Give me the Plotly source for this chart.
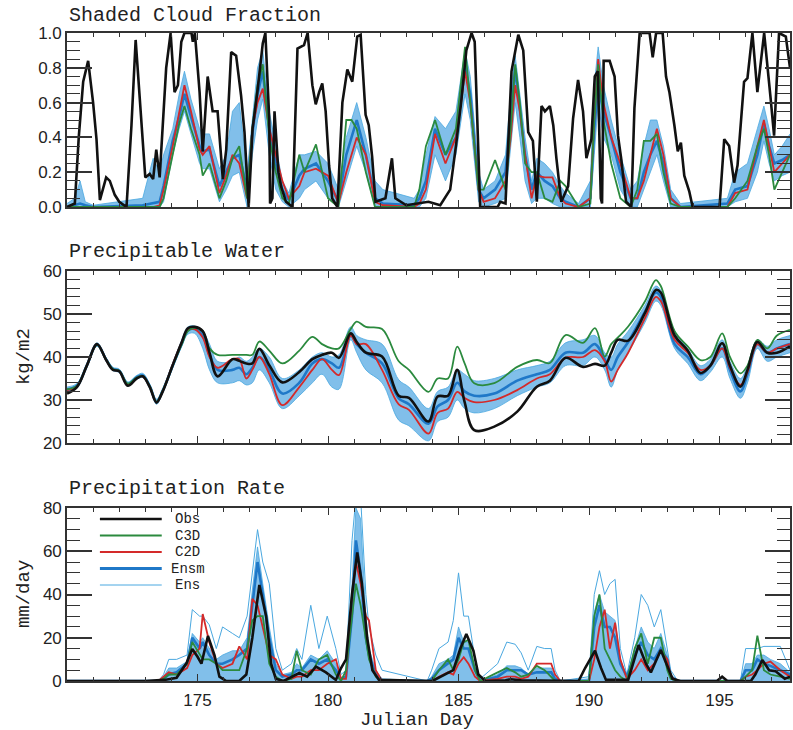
import plotly.graph_objects as go

# ================= DATA =================
series_names = ["Obs", "C3D", "C2D", "Ensm", "Ens"]
x_tickvals = [175, 180, 185, 190, 195]
cf_tickvals = [0.0, 0.2, 0.4, 0.6, 0.8, 1.0]
cf_ticktext = ["0.0", "0.2", "0.4", "0.6", "0.8", "1.0"]
pw_tickvals = [20, 30, 40, 50, 60]
pr_tickvals = [0, 20, 40, 60, 80]

# ---- Shaded cloud fraction: observations ----
obs_cf_day = [170.0, 170.3, 170.45, 170.62, 170.81, 171.0, 171.13, 171.26, 171.5, 171.64,
              171.83, 172.0, 172.28, 172.47, 172.63, 172.85, 173.0, 173.17, 173.3, 173.42,
              173.55, 173.8, 173.97, 174.12, 174.25, 174.38, 174.5, 174.77, 174.82, 174.9,
              175.08, 175.2, 175.39, 175.58, 175.77, 175.97, 176.1, 176.29, 176.48, 176.67,
              176.8, 176.96, 177.11, 177.3, 177.5, 177.6, 177.75, 177.78, 177.87, 177.95,
              178.1, 178.2, 178.39, 178.64, 178.83, 179.08, 179.22, 179.4, 179.53, 179.66,
              179.78, 179.91, 180.04, 180.16, 180.36, 180.55, 180.74, 180.93, 181.12, 181.25,
              181.44, 181.56, 181.69, 181.82, 182.2, 182.45, 182.58, 183.0, 183.85, 184.3,
              184.68, 184.9, 185.1, 185.3, 185.5, 185.62, 185.83, 186.5, 186.6, 186.8,
              187.03, 187.29, 187.48, 187.67, 187.85, 188.0, 188.18, 188.31, 188.5, 188.63,
              188.75, 188.94, 189.2, 189.39, 189.58, 189.77, 189.9, 190.09, 190.22, 190.34,
              190.45, 190.5, 190.56, 190.79, 190.98, 191.11, 191.23, 191.42, 191.62, 191.74,
              191.94, 192.32, 192.44, 192.57, 192.82, 192.95, 193.08, 193.27, 193.4, 193.52,
              193.65, 193.84, 193.97, 195.0, 195.18, 195.37, 195.56, 195.69, 195.94, 196.07,
              196.26, 196.45, 196.71, 196.96, 197.09, 197.28, 197.54, 197.7]
obs_cf = [0.0, 0.02, 0.4, 0.72, 0.84, 0.6, 0.39, 0.04, 0.17, 0.15,
          0.07, 0.03, 0.0, 0.47, 0.96, 0.47, 0.17, 0.19, 0.16, 0.33,
          0.17, 0.8, 1.0, 0.66, 0.7, 0.95, 1.0, 1.0, 0.95, 1.0,
          0.66, 0.32, 0.75, 0.55, 0.55, 0.16, 0.33, 0.89, 0.87, 0.64,
          0.43, 0.0, 0.45, 0.67, 0.94, 1.0, 0.5, 0.02, 0.05, 0.55,
          0.2, 0.12, 0.03, 0.0, 0.91, 0.93, 1.0, 0.7, 0.59, 0.66,
          0.71, 0.55, 0.24, 0.05, 0.0, 0.6, 0.79, 0.72, 0.98, 0.99,
          0.53, 0.47, 0.29, 0.03, 0.05, 0.28, 0.05, 0.01, 0.03, 0.01,
          0.1, 0.35, 0.6, 0.9, 1.0, 0.95, 0.0, 0.0, 0.03, 0.02,
          0.78, 0.99, 0.9, 0.43, 0.38, 0.03, 0.58, 0.55, 0.58, 0.47,
          0.28, 0.03, 0.12, 0.51, 0.73, 0.55, 0.28, 0.39, 0.75, 0.78,
          0.05, 0.02, 0.84, 0.84, 0.75, 0.41, 0.28, 0.03, 0.0, 0.57,
          1.0, 1.0, 0.86, 1.0, 1.0, 0.75, 0.66, 0.47, 0.32, 0.37,
          0.18, 0.09, 0.0, 0.0, 0.39, 0.35, 0.14, 0.24, 0.72, 0.74,
          1.0, 0.66, 1.0, 0.62, 0.41, 1.0, 0.98, 0.8]

# ---- Shaded cloud fraction: models ----
cf_day = [170.0, 170.3, 170.5, 170.7, 171.0, 172.9, 173.3, 173.55, 173.7, 174.05,
          174.3, 174.5, 174.75, 175.08, 175.2, 175.46, 175.84, 176.1, 176.34, 176.6,
          176.9, 177.1, 177.3, 177.5, 177.75, 178.0, 178.25, 178.5, 178.9, 179.1,
          179.54, 180.0, 180.4, 180.7, 180.9, 181.1, 181.45, 181.8, 182.1, 183.3,
          183.5, 183.75, 184.1, 184.5, 184.9, 185.1, 185.25, 185.45, 185.77, 185.96,
          186.4, 186.8, 187.0, 187.17, 187.35, 187.55, 187.8, 188.0, 188.3, 188.6,
          188.9, 189.1, 189.6, 190.05, 190.2, 190.35, 190.55, 190.85, 191.2, 191.6,
          191.85, 192.1, 192.35, 192.6, 192.85, 193.13, 193.5, 195.3, 195.6, 196.07,
          196.45, 196.7, 196.9, 197.1, 197.4, 197.7]
c3d_cf = [0, 0, 0, 0, 0, 0, 0, 0, 0.05, 0.3,
          0.48, 0.58, 0.45, 0.3, 0.18, 0.25, 0.05, 0.15, 0.28, 0.35,
          0.05, 0.45, 0.7, 0.82, 0.4, 0.2, 0.05, 0.02, 0.3, 0.2,
          0.36, 0.05, 0.0, 0.5, 0.5, 0.45, 0.2, 0.0, 0.0, 0.0,
          0.1, 0.35, 0.5, 0.3, 0.45, 0.7, 0.92, 0.6, 0.1, 0.1,
          0.27, 0.1, 0.45, 0.82, 0.6, 0.25, 0.2, 0.2, 0.05, 0.03,
          0.15, 0.12, 0.0, 0.02, 0.5, 0.82, 0.5, 0.25, 0.05, 0.0,
          0.1, 0.38, 0.38, 0.42, 0.2, 0.02, 0.0, 0.0, 0.05, 0.15,
          0.35, 0.45, 0.3, 0.1, 0.2, 0.3]
c2d_cf = [0, 0, 0, 0, 0, 0, 0, 0.01, 0.1, 0.35,
          0.55, 0.7, 0.55, 0.33, 0.3, 0.35, 0.08, 0.18, 0.3, 0.25,
          0.05, 0.45, 0.6, 0.68, 0.45, 0.3, 0.15, 0.05, 0.12, 0.2,
          0.22, 0.18, 0.02, 0.2, 0.3, 0.4, 0.3, 0.03, 0.01, 0.0,
          0.02, 0.1, 0.42, 0.25, 0.4, 0.6, 0.78, 0.6, 0.1, 0.03,
          0.05, 0.15, 0.4, 0.7, 0.55, 0.3, 0.05, 0.18, 0.17, 0.17,
          0.05, 0.02, 0.0, 0.05, 0.5, 0.85, 0.6, 0.4, 0.25, 0.05,
          0.05, 0.15, 0.3, 0.45, 0.3, 0.05, 0.0, 0.0, 0.08, 0.1,
          0.35, 0.5, 0.35, 0.2, 0.25, 0.3]
ensm_cf = [0, 0.01, 0.02, 0.01, 0, 0.01, 0.02, 0.03, 0.12, 0.38,
           0.52, 0.65, 0.52, 0.35, 0.32, 0.33, 0.12, 0.2, 0.28, 0.3,
           0.1, 0.42, 0.65, 0.78, 0.45, 0.25, 0.1, 0.04, 0.18, 0.22,
           0.25, 0.15, 0.03, 0.3, 0.4, 0.5, 0.3, 0.05, 0.02, 0.01,
           0.05, 0.15, 0.45, 0.3, 0.4, 0.62, 0.8, 0.65, 0.1, 0.05,
           0.1, 0.2, 0.5, 0.8, 0.55, 0.3, 0.1, 0.2, 0.15, 0.12,
           0.05, 0.03, 0.0, 0.05, 0.45, 0.7, 0.55, 0.4, 0.2, 0.05,
           0.05, 0.2, 0.3, 0.38, 0.25, 0.05, 0.0, 0.02, 0.1, 0.12,
           0.3, 0.48, 0.35, 0.25, 0.27, 0.3]
ens_hi_cf = [0.02, 0.05, 0.15, 0.03, 0.01, 0.05, 0.28, 0.2, 0.3, 0.45,
             0.65, 0.78, 0.62, 0.45, 0.42, 0.42, 0.22, 0.3, 0.55, 0.6,
             0.2, 0.5, 0.8, 0.9, 0.55, 0.35, 0.15, 0.08, 0.3, 0.3,
             0.32, 0.25, 0.1, 0.4, 0.5, 0.6, 0.4, 0.15, 0.1, 0.05,
             0.1, 0.3, 0.52, 0.45, 0.55, 0.75, 0.9, 0.75, 0.2, 0.1,
             0.15, 0.3, 0.65, 0.87, 0.65, 0.4, 0.15, 0.28, 0.25, 0.2,
             0.12, 0.08, 0.02, 0.15, 0.7, 0.92, 0.7, 0.5, 0.3, 0.1,
             0.15, 0.35, 0.5, 0.5, 0.35, 0.1, 0.02, 0.05, 0.2, 0.25,
             0.45, 0.58, 0.45, 0.3, 0.35, 0.42]
ens_lo_cf = [0, 0, 0, 0, 0, 0, 0, 0, 0.03, 0.3,
             0.45, 0.55, 0.42, 0.25, 0.22, 0.22, 0.03, 0.1, 0.18, 0.2,
             0.0, 0.3, 0.5, 0.62, 0.3, 0.1, 0.03, 0.0, 0.05, 0.1,
             0.15, 0.05, 0.0, 0.15, 0.25, 0.35, 0.2, 0.0, 0.0, 0.0,
             0.0, 0.05, 0.3, 0.15, 0.3, 0.5, 0.65, 0.5, 0.03, 0.0,
             0.02, 0.05, 0.35, 0.6, 0.4, 0.15, 0.02, 0.05, 0.05, 0.02,
             0.0, 0.0, 0.0, 0.0, 0.3, 0.6, 0.4, 0.3, 0.1, 0.0,
             0.0, 0.1, 0.2, 0.3, 0.15, 0.0, 0.0, 0.0, 0.03, 0.05,
             0.2, 0.38, 0.25, 0.15, 0.18, 0.2]

# ---- Precipitable water (kg/m2) ----
pw_day = [170.0, 170.38, 170.76, 171.15, 171.5, 171.76, 172.0, 172.33, 172.67, 172.9,
          173.17, 173.43, 173.67, 174.05, 174.4, 174.63, 174.89, 175.2, 175.46, 175.77,
          176.34, 176.6, 176.87, 177.1, 177.37, 177.75, 178.25, 178.9, 179.4, 179.77,
          180.15, 180.42, 180.87, 181.1, 181.45, 182.07, 182.71, 183.1, 183.85, 184.2,
          184.6, 184.95, 185.23, 185.6, 186.37, 187.25, 188.0, 188.5, 189.1, 189.77,
          190.23, 190.6, 190.85, 191.1, 191.5, 192.14, 192.56, 192.75, 193.28, 193.78,
          194.27, 194.65, 195.1, 195.4, 195.8, 196.07, 196.45, 196.83, 197.2, 197.7]
obs_pw = [31.5, 33, 38, 43, 39.3, 37, 36.7, 33.3, 35, 35.5,
          33, 29.4, 32, 38.1, 43.5, 46.7, 47, 46, 41, 35.5,
          39.5, 39.1, 38.5, 38.5, 41.9, 38.1, 34.1, 36.5, 39.5, 40.5,
          41, 39.8, 45.5, 43.5, 41, 40.1, 31, 30.5, 25, 30.8,
          31, 37, 29.6, 23, 23.8, 27.3, 33.1, 34.5, 39.8, 37.7,
          38.4, 38, 41, 44, 43.8, 50.2, 55.6, 55, 45, 41.5,
          36.3, 38, 43.2, 38, 33.1, 37, 43.5, 41, 41, 42.5]
c3d_pw = [32.5, 33.3, 38, 42.8, 39.4, 37.2, 36.8, 33.8, 35.2, 35.6,
          33.2, 29.6, 32.2, 38, 43, 46, 46.8, 46, 42, 40.5,
          40.5, 40.5, 40.5, 40.5, 43.6, 41.5, 38.5, 41.5, 44.7, 43,
          42, 42, 46.5, 48.2, 47, 46.5, 39, 37, 31.9, 35,
          35, 42.4, 38.6, 33.9, 33.9, 37.7, 39.3, 38.6, 45.1, 43.3,
          46.7, 40.1, 43, 44.5, 47.1, 52.9, 57.9, 56.5, 46, 42.5,
          39.3, 40, 45.5, 40, 36.2, 38, 44, 42, 45, 46.3]
c2d_pw = [32.3, 33.2, 38, 42.9, 39.3, 37.1, 36.7, 33.6, 35.1, 35.5,
          33.1, 29.5, 32.1, 38.3, 43.5, 46.3, 46.5, 44.5, 40, 37.5,
          39.5, 39.5, 35, 37, 40, 36, 28.8, 33, 37, 39.5,
          37, 35.8, 45, 43, 43, 37, 29, 27.7, 22.2, 27,
          28, 31.9, 30.5, 29.5, 30, 32.3, 35, 36, 39.8, 40,
          41.6, 39, 34.3, 37, 41, 49, 54, 53, 44, 41,
          37, 38, 42, 37.5, 33.5, 36.5, 43, 41, 42, 43]
ensm_pw = [32.4, 33.3, 38, 42.9, 39.4, 37.2, 36.8, 33.7, 35.3, 35.7,
           33.2, 29.6, 32.2, 38, 43.2, 46.2, 46.5, 45, 40.5, 37,
           37, 37.5, 36, 37.5, 40, 37, 31.5, 34, 38.5, 39.5,
           38.5, 37.5, 45, 43, 41, 38.5, 30.4, 29, 24.5, 28.5,
           30, 34, 32, 31, 31.5, 34.5, 36, 37, 41, 41,
           43, 39.5, 37, 40, 43.5, 50.5, 55, 54, 43, 40,
           36, 38, 42, 37, 32, 36, 43, 41, 42, 43]
ens_hi_pw = [33, 33.8, 38.5, 43.3, 39.8, 37.6, 37.2, 34.2, 35.7, 36.2,
             33.7, 30.2, 32.7, 38.6, 44, 47, 47.2, 46, 43, 39,
             39, 40, 39, 40, 42, 40, 35, 37, 40, 41,
             40, 40.5, 47, 45, 44, 43, 34.7, 33, 28, 32,
             33, 37, 36, 34.5, 35, 37, 38, 39, 43.3, 44,
             45, 41, 40, 43, 46, 52, 56.5, 55.5, 46, 42,
             38, 39.5, 44, 39, 35, 38, 44, 42.5, 44, 45]
ens_lo_pw = [32, 32.8, 37.6, 42.5, 39, 36.8, 36.4, 33.3, 34.8, 35.2,
             32.7, 29, 31.7, 37.4, 42.5, 45.3, 45.5, 42, 37, 34,
             34, 34.5, 33.5, 34, 37, 34, 28, 31, 34, 36,
             33, 32.5, 44, 41, 37, 34, 25.3, 24, 20.5, 25,
             26, 30, 28, 27, 28, 31, 33, 34, 38, 38,
             40, 37, 33, 37, 41, 48, 53, 52, 42, 38.5,
             34.5, 36.5, 40, 35, 30.4, 34, 42, 39, 40, 41]

# ---- Precipitation rate (mm/day) ----
pr_obs_day = [170.0, 173.0, 173.74, 174.2, 174.58, 174.8, 175.0, 175.15, 175.4, 175.65,
              175.84, 176.1, 176.6, 176.87, 177.1, 177.37, 177.63, 177.82, 178.0, 178.3,
              178.9, 179.2, 179.54, 179.92, 180.3, 180.5, 180.69, 180.92, 181.12, 181.3,
              181.5, 181.7, 181.95, 184.0, 184.8, 185.07, 185.3, 185.57, 185.76, 186.03,
              186.8, 187.0, 187.4, 189.6, 189.85, 190.23, 190.46, 190.65, 191.5, 191.68,
              191.9, 192.18, 192.37, 192.75, 193.0, 193.2, 193.5, 194.9, 195.1, 195.3,
              196.2, 196.37, 196.64, 196.9, 197.15, 197.5, 197.7]
obs_pr = [0, 0, 0.5, 1.5, 8.3, 14.8, 11.2, 8, 20.8, 12,
          2, 0, 0, 3, 20, 44.4, 30, 8, 1, 0,
          3.7, 2, 6.6, 4, 0.5, 6, 10, 40, 59.5, 45,
          20, 5, 0.5, 0, 5, 15, 21.7, 14, 3, 0,
          0.3, 0.8, 0.3, 0, 6, 14, 6, 0.5, 0.5, 8,
          16.6, 8, 4, 14.3, 7, 1, 0, 0, 2, 0,
          0, 3, 9.7, 5, 4.5, 1, 2]
pr_day = [170.0, 173.5, 173.7, 173.9, 174.2, 174.6, 174.8, 175.08, 175.2, 175.45,
          175.72, 175.96, 176.34, 176.6, 176.9, 177.1, 177.3, 177.5, 177.75, 178.0,
          178.25, 178.6, 178.8, 179.0, 179.34, 179.65, 179.97, 180.3, 180.5, 180.69,
          180.92, 181.07, 181.25, 181.45, 181.57, 181.83, 182.07, 183.8, 183.97, 184.25,
          184.6, 184.8, 185.0, 185.2, 185.38, 185.63, 185.83, 186.5, 186.85, 187.17,
          187.4, 187.67, 188.0, 188.3, 188.55, 188.7, 188.9, 190.0, 190.2, 190.4,
          190.6, 190.8, 191.0, 191.2, 191.45, 191.75, 192.0, 192.25, 192.5, 192.75,
          193.0, 193.13, 193.4, 195.8, 196.0, 196.25, 196.45, 196.7, 196.95, 197.33,
          197.7]
c3d_pr = [0, 0, 1, 3, 3, 8, 18, 12, 10, 10,
          8, 5, 5, 5, 15, 28, 30, 30, 8, 2,
          0, 1, 14, 5, 3, 10, 12, 3, 0, 5,
          30, 45, 35, 20, 10, 2, 0, 0, 0, 5,
          10, 5, 10, 18, 19, 5, 0, 4, 6, 4,
          2, 3, 7, 5, 2, 0, 0, 0, 30, 40,
          15, 10, 5, 2, 0, 15, 22, 8, 20, 20,
          5, 1, 0, 0, 2, 5, 21, 5, 3, 2,
          1]
c2d_pr = [0, 0, 2, 4, 3, 6, 12, 15, 31, 18,
          8, 6, 8, 16, 10, 38, 35, 25, 12, 10,
          3, 1, 2, 2, 5, 5, 8, 10, 1, 1,
          40, 55, 45, 30, 28, 5, 0, 0, 0, 2,
          4, 3, 8, 11, 8, 2, 0, 1, 2, 2,
          1, 2, 8, 8, 8, 3, 0, 0, 10, 25,
          33, 15, 27, 10, 1, 5, 10, 5, 8, 14,
          10, 2, 0, 0, 2, 3, 5, 8, 9, 5,
          2]
ensm_pr = [0, 0, 1, 3, 4, 8, 20, 15, 18, 12,
           8, 8, 10, 12, 15, 35, 55, 40, 20, 5,
           2, 3, 5, 5, 10, 8, 10, 5, 1, 2,
           30, 65, 50, 20, 12, 3, 0, 0, 1, 5,
           8, 10, 20, 15, 15, 5, 0, 2, 5, 5,
           5, 3, 4, 4, 4, 1, 0, 0, 25, 35,
           25, 25, 20, 8, 2, 12, 18, 12, 10, 15,
           10, 2, 0, 0, 5, 5, 10, 8, 7, 5,
           3]
ens_mid_pr = [0, 0, 2, 6, 6, 9, 22, 18, 20, 15,
              10, 12, 14, 14, 20, 42, 62, 45, 25, 8,
              3, 4, 8, 6, 12, 10, 14, 8, 1, 3,
              45, 80, 75, 30, 15, 5, 1, 0, 2, 8,
              10, 12, 25, 18, 18, 6, 0, 3, 7, 7,
              6, 3, 6, 6, 6, 2, 0, 1, 32, 40,
              32, 30, 28, 10, 2, 15, 25, 18, 15, 22,
              12, 3, 0, 0, 8, 8, 12, 12, 10, 8,
              4]
ens_hi_pr = [0, 0, 3, 10, 10, 12, 33, 30, 30, 26,
             15, 25, 22, 20, 30, 50, 70, 55, 45, 15,
             5, 8, 15, 10, 35, 15, 30, 15, 3, 5,
             65, 85, 85, 40, 25, 12, 5, 0, 5, 15,
             18, 28, 50, 30, 30, 10, 1, 8, 18, 17,
             13, 5, 16, 15, 15, 5, 0, 2, 40, 51,
             40, 45, 47, 15, 3, 20, 40, 35, 25, 33,
             15, 5, 0, 0, 15, 15, 15, 16, 16, 16,
             5]

# ================= STYLE =================
BLACK = "#111111"
GREEN = "#2b8a3e"
RED = "#d42a2a"
BLUE = "#1f78c8"
LBLUE = "#4aa8e0"
FILL = "rgba(38,145,218,0.58)"
AXC = "#333333"
TICKFONT = dict(family="Liberation Sans", size=17, color="#222222")
TEXTFONT = dict(family="Liberation Mono", size=20, color="#222222")
series_colors = [BLACK, GREEN, RED, BLUE, LBLUE]
series_widths = [2.6, 1.8, 1.8, 2.8, 1.0]

W, H = 793, 730
ML, MR, MT, MB = 67, 1, 33, 49
PW_ = W - ML - MR
PH = H - MT - MB
XRANGE = [170, 197.7]


def px_x(p):
    return (p - ML) / PW_


def px_y(p):
    return (H - MB - p) / PH


def ydom(top_px, bot_px):
    return [px_y(bot_px), px_y(top_px)]


fig = go.Figure()


def add_panel(n, obs_x, obs_y, mx, c3d, c2d, ensm, hi, lo, mid, shape):
    xa = "x" if n == 1 else "x%d" % n
    ya = "y" if n == 1 else "y%d" % n
    common = dict(xaxis=xa, yaxis=ya, mode="lines", hoverinfo="skip", showlegend=False)
    if lo is not None:
        fig.add_trace(go.Scatter(x=mx, y=lo, line=dict(color=LBLUE, width=0.8, shape=shape), **common))
        fig.add_trace(go.Scatter(x=mx, y=hi, line=dict(color=LBLUE, width=0.8, shape=shape),
                                 fill="tonexty", fillcolor=FILL, **common))
    else:
        fig.add_trace(go.Scatter(x=mx, y=mid, line=dict(color=LBLUE, width=0.8, shape=shape),
                                 fill="tozeroy", fillcolor=FILL, **common))
        fig.add_trace(go.Scatter(x=mx, y=hi, line=dict(color=LBLUE, width=1.0, shape=shape), **common))
    fig.add_trace(go.Scatter(x=mx, y=ensm, line=dict(color=BLUE, width=2.6, shape=shape), **common))
    fig.add_trace(go.Scatter(x=mx, y=c2d, line=dict(color=RED, width=1.8, shape=shape), **common))
    fig.add_trace(go.Scatter(x=mx, y=c3d, line=dict(color=GREEN, width=1.8, shape=shape), **common))
    fig.add_trace(go.Scatter(x=obs_x, y=obs_y, line=dict(color=BLACK, width=2.6, shape=shape), **common))


add_panel(1, obs_cf_day, obs_cf, cf_day, c3d_cf, c2d_cf, ensm_cf, ens_hi_cf, ens_lo_cf, None, "linear")
add_panel(2, pw_day, obs_pw, pw_day, c3d_pw, c2d_pw, ensm_pw, ens_hi_pw, ens_lo_pw, None, "spline")
add_panel(3, pr_obs_day, obs_pr, pr_day, c3d_pr, c2d_pr, ensm_pr, ens_hi_pr, None, ens_mid_pr, "linear")


def xaxis(anchor, labels):
    return dict(range=XRANGE, domain=[0, 1], anchor=anchor, side="bottom", tickvals=x_tickvals,
                ticks="inside", ticklen=7, tickwidth=1.4, tickcolor=AXC,
                showline=True, linecolor=AXC, linewidth=1.6, mirror="ticks",
                showgrid=False, zeroline=False, showticklabels=labels, tickfont=TICKFONT,
                ticklabelstandoff=3,
                minor=dict(dtick=1, tick0=170, ticks="inside", ticklen=4, tickwidth=1.1,
                           tickcolor=AXC, showgrid=False))


def yaxis(anchor, rng, tv, tt, mdt, dom):
    d = dict(range=rng, domain=dom, anchor=anchor, side="left", tickvals=tv,
             ticks="inside", ticklen=25, tickwidth=1.5, tickcolor=AXC,
             showline=True, linecolor=AXC, linewidth=1.6, mirror="ticks",
             showgrid=False, zeroline=False, tickfont=TICKFONT,
             minor=dict(dtick=mdt, ticks="inside", ticklen=13, tickwidth=1.1,
                        tickcolor=AXC, showgrid=False))
    if tt is not None:
        d["ticktext"] = tt
    return d


fig.update_layout(
    width=W, height=H,
    margin=dict(l=ML, r=MR, t=MT, b=MB, pad=0),
    paper_bgcolor="white", plot_bgcolor="white",
    showlegend=False,
    xaxis=xaxis("y", False),
    xaxis2=xaxis("y2", False),
    xaxis3=xaxis("y3", True),
    yaxis=yaxis("x", [0, 1], cf_tickvals, cf_ticktext, 0.05, ydom(33, 207)),
    yaxis2=yaxis("x2", [20, 60], pw_tickvals, None, 2, ydom(271, 443)),
    yaxis3=yaxis("x3", [0, 80], pr_tickvals, None, 5, ydom(508, 681)),
)

# panel titles
for txt, ypx in [("Shaded Cloud Fraction", 15), ("Precipitable Water", 251), ("Precipitation Rate", 488)]:
    fig.add_annotation(text=txt, x=0, y=px_y(ypx), xref="paper", yref="paper",
                       xanchor="left", yanchor="middle", showarrow=False, font=TEXTFONT)
# axis titles
for txt, ypx in [("kg/m2", 357), ("mm/day", 594)]:
    fig.add_annotation(text=txt, x=px_x(24), y=px_y(ypx), xref="paper", yref="paper",
                       xanchor="center", yanchor="middle", textangle=-90, showarrow=False,
                       font=dict(family="Liberation Mono", size=19, color="#222"))
fig.add_annotation(text="Julian Day", x=px_x(418), y=px_y(720), xref="paper", yref="paper",
                   xanchor="center", yanchor="middle", showarrow=False,
                   font=dict(family="Liberation Mono", size=19, color="#222"))

# legend (drawn inside the precipitation panel)
leg_rows = [519, 535.5, 552, 568.5, 585]
for name, col, wid, ypx in zip(series_names, series_colors, series_widths, leg_rows):
    fig.add_shape(type="line", xref="paper", yref="paper", x0=px_x(100), x1=px_x(162),
                  y0=px_y(ypx), y1=px_y(ypx), line=dict(color=col, width=wid))
    fig.add_annotation(text=name, x=px_x(188), y=px_y(ypx), xref="paper", yref="paper",
                       xanchor="center", yanchor="middle", showarrow=False,
                       font=dict(family="Liberation Mono", size=14, color="#222"))

fig.write_html("out.html")
